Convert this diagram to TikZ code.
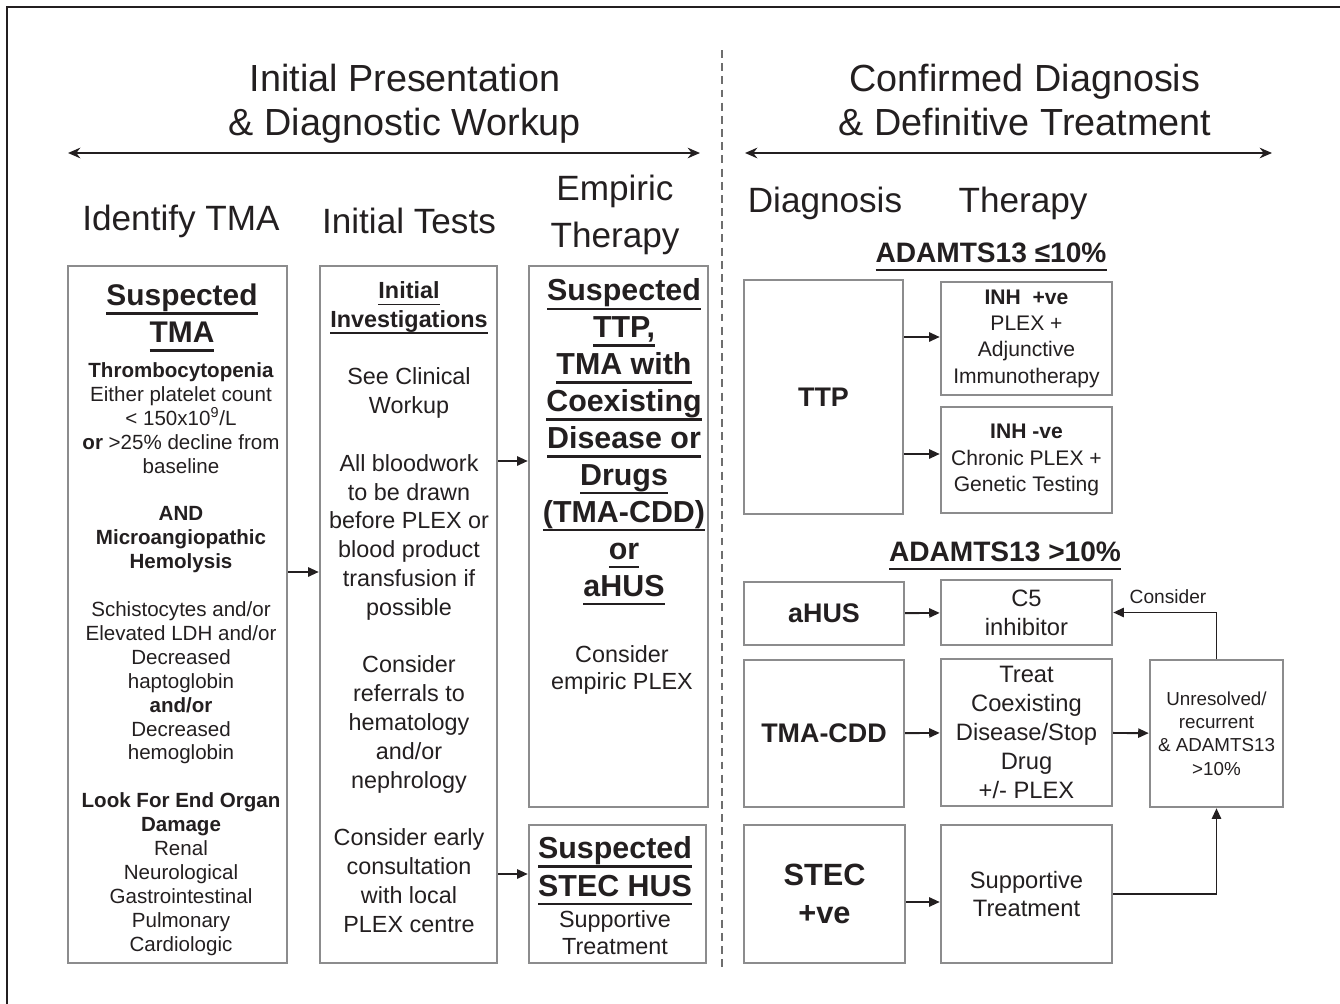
\documentclass[tikz,border=0pt]{standalone}
\usepackage{fontspec}
\setmainfont{Liberation Sans}
\usetikzlibrary{arrows.meta,fit,positioning}
\definecolor{ink}{HTML}{231F20}
\definecolor{boxgray}{HTML}{8C8C8D}
\definecolor{dashgray}{HTML}{6E6E6E}
% thick underline of one line of text
\newcommand{\ulbox}[1]{\setbox0=\hbox{#1}\rlap{\rule[-0.3em]{\wd0}{0.08em}}\box0}
\newcommand{\fsz}[2]{\fontsize{#1}{#2}\selectfont}

\tikzset{
  box/.style={draw=boxgray, line width=1.4pt, inner sep=0pt},
  txt/.style={text=ink, align=center, inner sep=0pt},
  arr/.style={ink, line width=1.1pt, -{Triangle[length=6pt,width=5.2pt]}},
  dblarr/.style={ink, line width=1.6pt, {Stealth[length=7pt,width=6pt]}-{Stealth[length=7pt,width=6pt]}},
}

\begin{document}
\begin{tikzpicture}[x=0.02cm,y=-0.02cm]
  \useasboundingbox (0,0) rectangle (1340,1004);
  \draw[ink, line width=1.2pt] (7,1004) -- (7,7) -- (1340,7);

  % section titles
  \node[txt, font=\fsz{21.5}{25}] (lefttitle) at (405,104) {Initial Presentation\\\& Diagnostic Workup};
  \node[txt, font=\fsz{21.5}{25}] (righttitle) at (1025,100) {Confirmed Diagnosis\\\& Definitive Treatment};
  \coordinate (la) at (68,153);
  \coordinate (lb) at (700,153);
  \coordinate (ra) at (745,153);
  \coordinate (rb) at (1272,153);
  \draw[dblarr] (la) -- (lb);
  \draw[dblarr] (ra) -- (rb);
  \coordinate (dtop) at (722,50);
  \coordinate (dbot) at (722,970);
  \draw[dashgray, line width=0.9pt, dash pattern=on 4.5pt off 3pt] (dtop) -- (dbot);

  % column headers
  \node[txt, font=\fsz{20}{24}] (hdident) at (181,221) {Identify TMA};
  \node[txt, font=\fsz{20}{24}] (hdtests) at (409,221) {Initial Tests};
  \node[txt, font=\fsz{20}{27.2}] (hdemp) at (615,215) {Empiric\\Therapy};
  \node[txt, font=\fsz{20}{24}] (hddiag) at (825,203) {Diagnosis};
  \node[txt, font=\fsz{20}{24}] (hdther) at (1023,203) {Therapy};

  % left part
  \node[box, fit={(68,266) (287,963)}] (tma) {};
  \node[txt, font=\fsz{17}{21}\bfseries] (tmahead) at (182,318) {\ulbox{Suspected}\\\ulbox{TMA}};
  \node[txt, font=\fsz{11.7}{13.6}] (tmabody) at (181,659) {%
    \textbf{Thrombocytopenia}\\Either platelet count\\< 150x10\textsuperscript{9}/L\\
    \textbf{or} >25\% decline from\\baseline\\[13.6pt]
    \textbf{AND}\\\textbf{Microangiopathic}\\\textbf{Hemolysis}\\[13.6pt]
    Schistocytes and/or\\Elevated LDH and/or\\Decreased\\haptoglobin\\\textbf{and/or}\\Decreased\\hemoglobin\\[13.6pt]
    \textbf{Look For End Organ}\\\textbf{Damage}\\Renal\\Neurological\\Gastrointestinal\\Pulmonary\\Cardiologic};

  \node[box, fit={(320,266) (497,963)}] (tests) {};
  \node[txt, font=\fsz{13.3}{16.4}] (testbody) at (409,607) {%
    \textbf{\ulbox{Initial}}\\\textbf{\ulbox{Investigations}}\\[16.4pt]
    See Clinical\\Workup\\[16.4pt]
    All bloodwork\\to be drawn\\before PLEX or\\blood product\\transfusion if\\possible\\[16.4pt]
    Consider\\referrals to\\hematology\\and/or\\nephrology\\[16.4pt]
    Consider early\\consultation\\with local\\PLEX centre};

  \node[box, fit={(529,266) (708,807)}] (emp) {};
  \node[txt, font=\fsz{17.3}{21}\bfseries] (emphead) at (624,442) {%
    \ulbox{Suspected}\\\ulbox{TTP,}\\\ulbox{TMA with}\\\ulbox{Coexisting}\\\ulbox{Disease or}\\
    \ulbox{Drugs}\\\ulbox{(TMA-CDD)}\\\ulbox{or}\\\ulbox{aHUS}};
  \node[txt, font=\fsz{13.3}{15.3}] (empplex) at (622,670) {Consider\\empiric PLEX};

  \node[box, fit={(529,825) (706,963)}] (stecsusp) {};
  \node[txt, font=\fsz{17.3}{21.5}\bfseries] (stechead) at (615,871) {\ulbox{Suspected}\\\ulbox{STEC HUS}};
  \node[txt, font=\fsz{13.3}{15.3}] (stecbody) at (615,933) {Supportive\\Treatment};

  \draw[arr] (tma.east |- 0,572) -- (tests.west |- 0,572);
  \draw[arr] (tests.east |- 0,461) -- (emp.west |- 0,461);
  \draw[arr] (tests.east |- 0,874) -- (stecsusp.west |- 0,874);

  % right part, ADAMTS13 low
  \node[txt, font=\fsz{16}{20}\bfseries] (lowhead) at (991,257) {\ulbox{ADAMTS13 ≤10\%}};
  \node[box, fit={(744,280) (903,514)}] (ttp) {};
  \node[txt, font=\fsz{15.3}{18}\bfseries] (ttptext) at (ttp) {TTP};
  \node[box, fit={(941,282) (1112,395)}] (inhpos) {};
  \node[txt, font=\fsz{12}{15}] (inhpostext) at (inhpos) {\textbf{INH~ +ve}\\PLEX +\\Adjunctive\\Immunotherapy};
  \node[box, fit={(941,407) (1112,513)}] (inhneg) {};
  \node[txt, font=\fsz{12}{15}] (inhnegtext) at (inhneg) {\textbf{INH -ve}\\Chronic PLEX +\\Genetic Testing};
  \draw[arr] (ttp.east |- 0,337) -- (inhpos.west |- 0,337);
  \draw[arr] (ttp.east |- 0,454) -- (inhneg.west |- 0,454);

  % right part, ADAMTS13 high
  \node[txt, font=\fsz{16}{20}\bfseries] (highhead) at (1005,556) {\ulbox{ADAMTS13 >10\%}};
  \node[box, fit={(744,582) (904,645)}] (ahus) {};
  \node[txt, font=\fsz{15.3}{18}\bfseries] (ahustext) at (ahus) {aHUS};
  \node[box, fit={(941,580) (1112,645)}] (c5) {};
  \node[txt, font=\fsz{13.5}{16.4}] (c5text) at (c5) {C5\\inhibitor};
  \node[box, fit={(744,660) (904,807)}] (cdd) {};
  \node[txt, font=\fsz{15.3}{18}\bfseries] (cddtext) at (cdd) {TMA-CDD};
  \node[box, fit={(941,659) (1112,806)}] (treat) {};
  \node[txt, font=\fsz{13.5}{16.4}] (treattext) at (treat) {Treat\\Coexisting\\Disease/Stop\\Drug\\+/- PLEX};
  \node[box, fit={(1150,660) (1283,807)}] (unres) {};
  \node[txt, font=\fsz{10.7}{13.3}] (unrestext) at (unres) {Unresolved/\\recurrent\\\& ADAMTS13\\>10\%};
  \node[box, fit={(744,825) (905,963)}] (stec) {};
  \node[txt, font=\fsz{17.5}{21.5}\bfseries] (stectext) at (stec) {STEC\\+ve};
  \node[box, fit={(941,825) (1112,963)}] (supp) {};
  \node[txt, font=\fsz{13.5}{16.4}] (supptext) at (supp) {Supportive\\Treatment};

  \draw[arr] (ahus) -- (c5);
  \draw[arr] (cdd) -- (treat);
  \draw[arr] (treat) -- (unres);
  \draw[arr] (stec.east |- 0,902) -- (supp.west |- 0,902);
  \draw[arr] (supp.east) -| (unres.south);
  \draw[arr] (unres.north) |- (c5.east);
  \node[txt, font=\fsz{10.9}{13}] (consider) at (1168,597) {Consider};
\end{tikzpicture}
\end{document}
